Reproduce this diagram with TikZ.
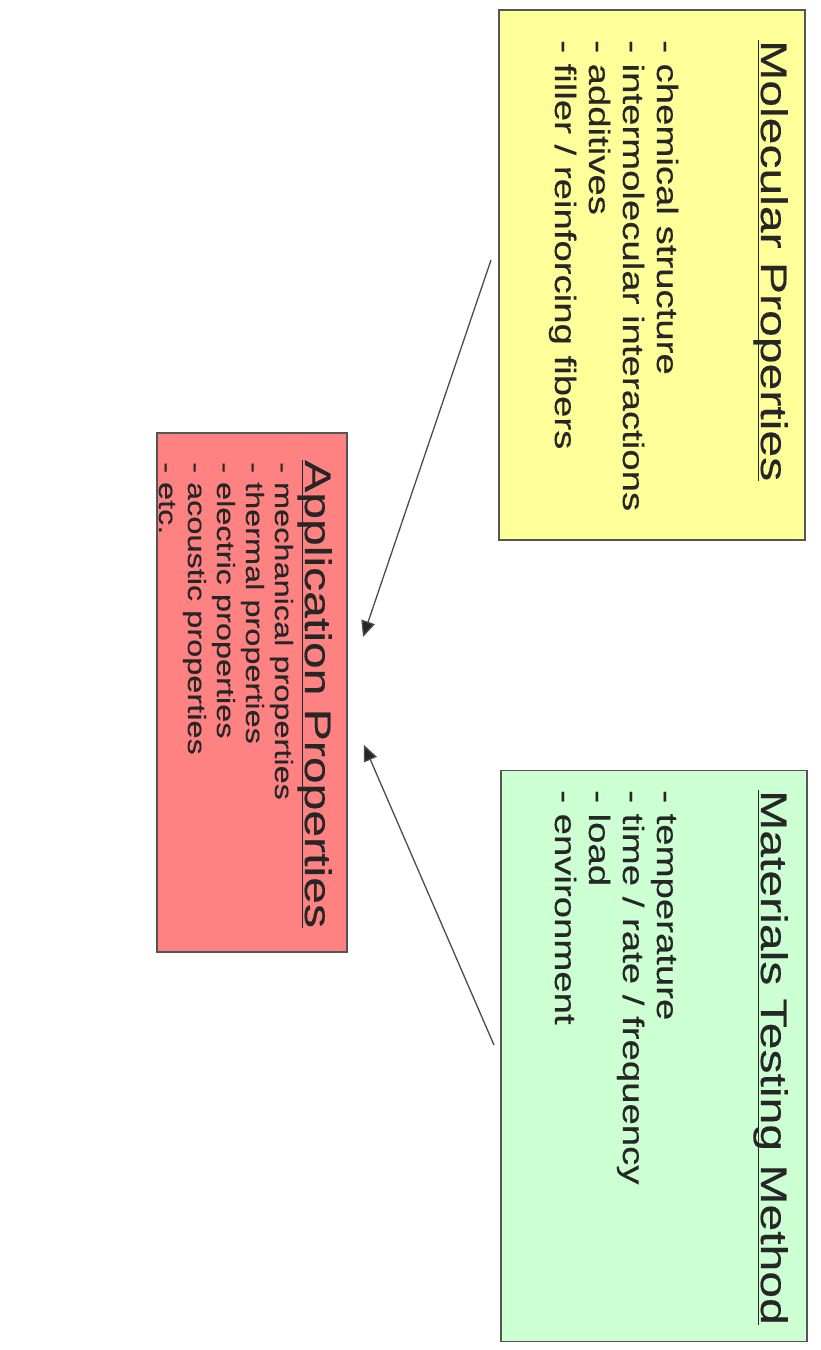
\documentclass[tikz,border=0pt]{standalone}
\usepackage{fontspec}
\setmainfont{Liberation Sans}
\newfontfamily\boxfont[FakeStretch=1.3,FakeBold=0.3]{Liberation Sans}
\usetikzlibrary{arrows.meta}
\definecolor{ybox}{HTML}{FFFF99}
\definecolor{rbox}{HTML}{FF8282}
\definecolor{gbox}{HTML}{CCFFD2}
\definecolor{edge}{HTML}{555555}
\definecolor{txt}{HTML}{262626}
\newcommand\ulin[1]{\setbox0\hbox{#1}\rlap{\rule[-3.5pt]{\wd0}{1.8pt}}\box0}
\tikzset{
  boxstyle/.style={draw=edge, line width=1.6pt, inner sep=0pt},
  titletext/.style={rotate=-90, inner sep=0pt, anchor=base west, text=txt,
    font=\boxfont\fontsize{37}{44}\selectfont},
  itemtext/.style={rotate=-90, inner sep=0pt, anchor=base west, text=txt,
    font=\boxfont\fontsize{29.5}{34}\selectfont},
  smallitem/.style={rotate=-90, inner sep=0pt, anchor=base west, text=txt,
    font=\boxfont\fontsize{25}{29}\selectfont},
  arr/.style={draw=black!70, line width=1.3pt, -{Triangle[length=16pt,width=14pt,fill=black!85]}}
}
\begin{document}
\begin{tikzpicture}[x=1pt,y=-1pt]
\useasboundingbox (0,0) rectangle (820,1350);
% boxes
\node[boxstyle, fill=ybox, minimum width=306pt, minimum height=530pt] (mol) at (652,275) {};
\node[boxstyle, fill=rbox, minimum width=190pt, minimum height=519pt] (app) at (252,692.5) {};
\node[boxstyle, fill=gbox, minimum width=306pt, minimum height=571pt] (mat) at (654,1056) {};
% titles
\node[titletext] (molT) at (761,40) {\ulin{Molecular Properties}};
\node[titletext] (appT) at (305,460) {\ulin{Application Properties}};
\node[titletext] (matT) at (761,790) {\ulin{Materials Testing Method}};
% items
\foreach \t [count=\i from 0] in {{- chemical structure},{- intermolecular interactions},{- additives},{- filler / reinforcing fibers}}
  \node[itemtext] (molI\i) at ({657-34*\i},40) {\t};
\foreach \t [count=\i from 0] in {{- temperature},{- time / rate / frequency},{- load},{- environment}}
  \node[itemtext] (matI\i) at ({657-34*\i},790) {\t};
\foreach \t [count=\i from 0] in {{- mechanical properties},{- thermal properties},{- electric properties},{- acoustic properties},{- etc.}}
  \node[smallitem] (appI\i) at ({275-29*\i},462) {\t};
% arrows
\coordinate (s1) at (491,260);
\coordinate (t1) at (363,637);
\coordinate (s2) at (494,1045);
\coordinate (t2) at (364,745);
\draw[arr] (s1) -- (t1);
\draw[arr] (s2) -- (t2);
\end{tikzpicture}
\end{document}
